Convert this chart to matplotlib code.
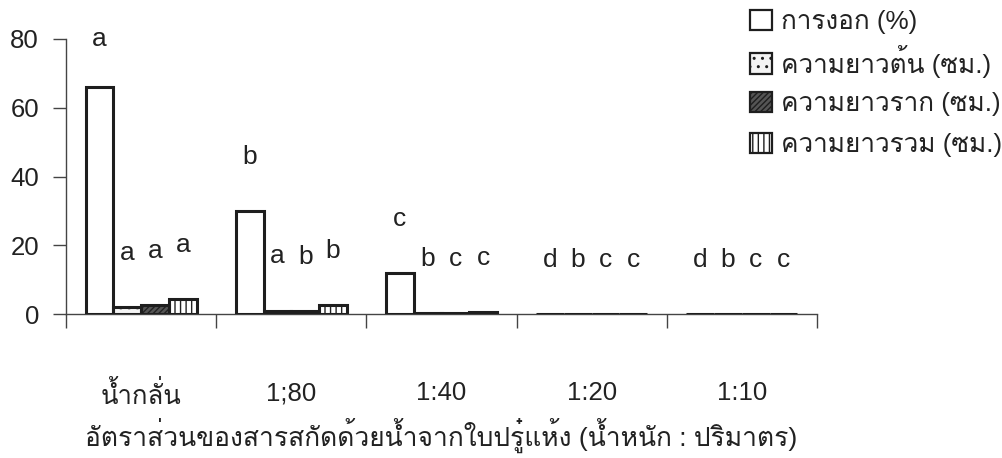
import numpy as np
import matplotlib
matplotlib.use("Agg")
import matplotlib.pyplot as plt
from matplotlib.patches import Patch

plt.rcParams['font.family'] = ['Liberation Sans', 'Loma']
plt.rcParams['hatch.linewidth'] = 1.0

categories = ['น้ำกลั่น', '1;80', '1:40', '1:20', '1:10']
series_names = ['การงอก (%)', 'ความยาวต้น (ซม.)', 'ความยาวราก (ซม.)', 'ความยาวรวม (ซม.)']
germination = [66.0, 30.0, 12.0, 0.0, 0.0]
shoot_len = [2.0, 1.0, 0.2, 0.0, 0.0]
root_len = [2.6, 0.8, 0.2, 0.0, 0.0]
total_len = [4.4, 2.6, 0.5, 0.0, 0.0]
letters = [
    ['a', 'b', 'c', 'd', 'd'],
    ['a', 'a', 'b', 'b', 'b'],
    ['a', 'b', 'c', 'c', 'c'],
    ['a', 'b', 'c', 'c', 'c'],
]
xlabel = 'อัตราส่วนของสารสกัดด้วยน้ำจากใบปรู๋แห้ง (น้ำหนัก : ปริมาตร)'
yticks = [0, 20, 40, 60, 80]

series = [germination, shoot_len, root_len, total_len]
faces = ['white', '#f4f4f4', '#555555', 'white']
hatches = [None, '..', '//////', '|||']
hatch_cols = ['#222222', '#aaaaaa', '#222222', '#222222']

fig = plt.figure(figsize=(10.03, 4.58), dpi=100)
ax = fig.add_axes([66/1003, (458-314)/458, 751/1003, 275/458])

x = np.arange(len(categories))
w = 0.185
edge = '#1e1e1e'
for i, (vals, fc, h, hc) in enumerate(zip(series, faces, hatches, hatch_cols)):
    pos = x + (i - 1.5) * w
    ax.bar(pos, vals, width=w, facecolor=fc, edgecolor=hc, hatch=h,
           linewidth=0, zorder=2)
    ax.bar(pos, vals, width=w, facecolor='none', edgecolor=edge,
           linewidth=2.2, zorder=3)
    for px, v, lab in zip(pos, vals, letters[i]):
        off = 35 if i == 0 and v > 50 else 39
        ax.annotate(lab, (px, v), xytext=(0, off), textcoords='offset points',
                    ha='center', va='center', fontsize=19, color='#222222',
                    annotation_clip=False)

ax.set_xlim(-0.5, len(categories) - 0.5)
ax.set_ylim(0, 80)
ax.set_yticks(yticks)
ax.set_yticklabels([str(t) for t in yticks], fontsize=18.5, color='#222222')
ax.set_xticks(x)
ax.set_xticklabels(categories, fontsize=18.5, color='#222222')
ax.set_xticks(np.arange(len(categories) + 1) - 0.5, minor=True)
ax.tick_params(axis='x', which='major', length=0, pad=48.5)
ax.tick_params(axis='x', which='minor', length=10, width=1.0, direction='out', color='#444444')
ax.tick_params(axis='y', length=9.5, width=1.0, direction='out', color='#444444', pad=10)
for s in ['top', 'right']:
    ax.spines[s].set_visible(False)
for s in ['left', 'bottom']:
    ax.spines[s].set_color('#444444')
    ax.spines[s].set_linewidth(1.0)

ax.set_xlabel(xlabel, fontsize=19, color='#222222', labelpad=6)

# legend: one row per entry, evenly spaced
row_y = [22, 61, 104, 145]
for fc, h, name, yc in zip(faces, hatches, series_names, row_y):
    hd = Patch(facecolor=fc, edgecolor=edge, hatch=h, linewidth=1.6)
    leg = fig.legend([hd], [name], loc='center left',
                     bbox_to_anchor=(750/1003, 1 - yc/458), frameon=False,
                     fontsize=18.8, handlelength=0.83, handleheight=0.83,
                     handletextpad=0.37, borderaxespad=0, borderpad=0)
    for t in leg.get_texts():
        t.set_color('#222222')

fig.savefig('out.png', dpi=100)
